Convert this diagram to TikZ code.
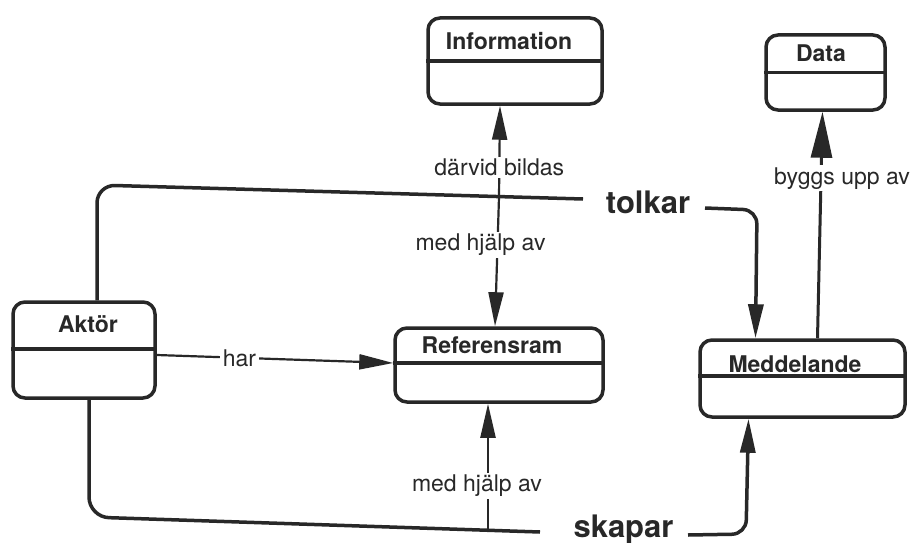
\documentclass[tikz,border=0pt]{standalone}
\usepackage{fontspec}
\setmainfont{TeX Gyre Heros}
\usetikzlibrary{arrows.meta}
\definecolor{ink}{RGB}{40,40,40}
\tikzset{
  entity/.style={draw=ink, line width=3.5pt, rounded corners=12pt, inner sep=0pt},
  divider/.style={draw=ink, line width=3.5pt},
  title/.style={font=\bfseries\fontsize{23}{26}\selectfont, text=ink, inner sep=0pt, anchor=base},
  verb/.style={font=\bfseries\fontsize{31}{34}\selectfont, text=ink, inner sep=0pt, anchor=base},
  lab/.style={font=\fontsize{23}{26}\selectfont, text=ink, fill=white, inner xsep=3pt, inner ysep=2pt},
  heavy/.style={draw=ink, line width=3.5pt, line join=round},
  medium/.style={draw=ink, line width=3pt},
  light/.style={draw=ink, line width=2.2pt},
  tip/.style={-{Triangle[length=34pt,width=15pt]}},
  bigtip/.style={-{Triangle[length=46pt,width=21pt]}},
}
\begin{document}
\begin{tikzpicture}[x=1pt, y=-1pt]
\fill[white] (0,0) rectangle (915,543);
\useasboundingbox (0,0) rectangle (915,543);

% entity boxes
\node[entity, minimum width=174pt, minimum height=86pt] (info) at (515,61) {};
\node[entity, minimum width=119pt, minimum height=75pt] (data) at (825.5,72.5) {};
\node[entity, minimum width=142pt, minimum height=96pt] (aktor) at (84,350) {};
\node[entity, minimum width=208pt, minimum height=74pt] (ref) at (499,365) {};
\node[entity, minimum width=205pt, minimum height=77pt] (medd) at (802.5,378.5) {};

% compartment lines
\draw[divider] (info.west) -- (info.east);
\draw[divider] (data.west) -- (data.east);
\draw[divider] ([yshift=1pt]aktor.west) -- ([yshift=1pt]aktor.east);
\draw[divider] ([yshift=2pt]ref.west) -- ([yshift=2pt]ref.east);
\draw[divider] ([yshift=2.5pt]medd.west) -- ([yshift=2.5pt]medd.east);

% entity names
\node[title] (info-t) at (509,50) {Information};
\node[title] (data-t) at (821,62) {Data};
\node[title] (aktor-t) at (88,332) {Aktör};
\node[title] (ref-t) at (492,353) {Referensram};
\node[title] (medd-t) at (795,372) {Meddelande};

% relationship verbs
\node[verb] (tolkar) at (648,213) {tolkar};
\node[verb] (skapar) at (623.5,537) {skapar};

\coordinate (tolkIn) at (583,199);
\coordinate (tolkOut) at (705,208);
\coordinate (skapIn) at (540,532);
\coordinate (skapOut) at (688,535);
\coordinate (upCross) at (499,197);
\coordinate (lowCross) at (488,530);

% Aktör tolkar Meddelande
\draw[heavy, rounded corners=18pt] ([xshift=13pt]aktor.north) -- (97,185) -- (tolkIn);
\draw[heavy, tip, rounded corners=14pt] (tolkOut) -- (757,210) -- ([xshift=-47pt]medd.north);

% Aktör skapar Meddelande
\draw[heavy, rounded corners=20pt] ([xshift=5pt]aktor.south) -- (89,517) -- (skapIn);
\draw[heavy, tip, rounded corners=14pt] (skapOut) -- (746,534) -- ([xshift=-54pt]medd.south);

% Aktör har Referensram
\draw[light, tip] ([yshift=-5pt]aktor.east) -- node[lab, pos=0.35] (har) {har} ([yshift=2pt]ref.west);

% interpretation: via Referensram, forming Information
\draw[light, tip] (upCross) -- node[lab, pos=0.326] (bildas) {därvid bildas} ([xshift=-15pt]info.south);
\draw[light, tip] (upCross) -- node[lab, pos=0.372, xshift=-17pt] (hjalp1) {med hjälp av} ([xshift=-4pt]ref.north);

% creation: via Referensram
\draw[light, tip] (lowCross) -- node[lab, pos=0.35, xshift=-11pt] (hjalp2) {med hjälp av} ([xshift=-11pt]ref.south);

% Meddelande byggs upp av Data
\draw[medium, bigtip] ([xshift=15pt]medd.north) -- node[lab, pos=0.706, xshift=21pt] (byggs) {byggs upp av} ([xshift=-3pt]data.south);
\end{tikzpicture}
\end{document}
